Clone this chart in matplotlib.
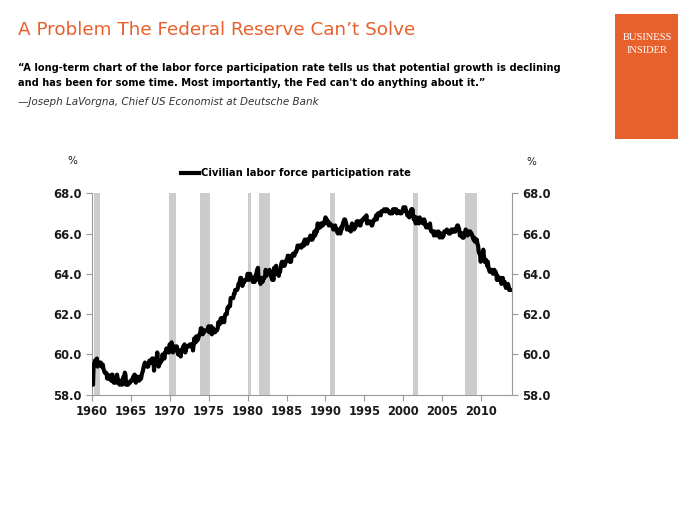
import numpy as np
import matplotlib
matplotlib.use("Agg")
import matplotlib.pyplot as plt
from matplotlib.patches import Rectangle

# ---- data (monthly civilian labor force participation rate, %) ----
start_year = 1960
lfpr_1960s = [
    59.1, 59.1, 58.5, 59.5, 59.5, 59.7, 59.5, 59.5, 59.8, 59.4, 59.6, 59.6,
    59.6, 59.6, 59.6, 59.4, 59.5, 59.5, 59.3, 59.2, 59.1, 59.1, 59.1, 59.0,
    58.8, 59.0, 58.9, 58.8, 58.9, 58.8, 58.7, 59.0, 59.0, 58.7, 58.6, 58.6,
    58.6, 58.6, 58.7, 59.0, 58.8, 58.6, 58.6, 58.5, 58.7, 58.7, 58.6, 58.5,
    58.6, 58.9, 58.7, 59.1, 59.0, 58.5, 58.6, 58.6, 58.5, 58.6, 58.6, 58.6,
    58.7, 58.7, 58.7, 58.8, 58.9, 58.9, 59.0, 58.7, 58.6, 58.9, 58.9, 58.8,
    58.8, 58.7, 58.8, 58.9, 58.8, 59.0, 59.1, 59.2, 59.4, 59.5, 59.6, 59.5,
    59.5, 59.4, 59.5, 59.4, 59.6, 59.7, 59.6, 59.7, 59.6, 59.8, 59.8, 59.8,
    59.2, 59.6, 59.6, 59.6, 59.8, 60.1, 59.7, 59.4, 59.5, 59.6, 59.6, 59.7,
    59.7, 60.0, 59.9, 59.9, 59.8, 60.1, 60.1, 60.3, 60.2, 60.2, 60.1, 60.1,
]
lfpr_1970s = [
    60.5, 60.4, 60.4, 60.6, 60.3, 60.1, 60.4, 60.3, 60.2, 60.4, 60.4, 60.4,
    60.2, 60.0, 60.0, 60.2, 60.2, 59.9, 60.2, 60.2, 60.3, 60.4, 60.4, 60.5,
    60.1, 60.2, 60.4, 60.4, 60.4, 60.4, 60.4, 60.5, 60.5, 60.4, 60.4, 60.5,
    60.2, 60.5, 60.8, 60.7, 60.6, 60.9, 60.8, 60.7, 60.8, 60.9, 61.0, 61.0,
    61.3, 61.3, 61.2, 61.0, 61.1, 61.1, 61.2, 61.2, 61.2, 61.2, 61.2, 61.2,
    61.4, 61.1, 61.2, 61.3, 61.4, 61.0, 61.2, 61.3, 61.2, 61.1, 61.1, 61.2,
    61.2, 61.2, 61.3, 61.6, 61.5, 61.5, 61.7, 61.8, 61.6, 61.6, 61.8, 61.8,
    61.6, 61.9, 62.0, 62.0, 62.0, 62.3, 62.3, 62.4, 62.4, 62.4, 62.8, 62.8,
    62.8, 62.8, 62.8, 63.0, 63.0, 63.2, 63.2, 63.2, 63.2, 63.3, 63.5, 63.5,
    63.6, 63.8, 63.8, 63.5, 63.4, 63.5, 63.6, 63.6, 63.7, 63.7, 63.7, 63.8,
]
lfpr_1980s = [
    64.0, 64.0, 63.7, 63.8, 64.0, 63.8, 63.8, 63.8, 63.6, 63.7, 63.8, 63.6,
    63.9, 63.9, 64.1, 64.2, 64.3, 63.7, 63.8, 63.8, 63.5, 63.8, 63.8, 63.6,
    63.7, 63.8, 63.8, 63.9, 64.2, 63.9, 64.0, 64.1, 64.1, 64.1, 64.2, 64.1,
    63.9, 63.8, 63.7, 63.8, 63.7, 64.3, 64.3, 64.3, 64.4, 64.0, 64.1, 64.1,
    63.9, 64.1, 64.1, 64.3, 64.5, 64.6, 64.6, 64.4, 64.4, 64.4, 64.5, 64.6,
    64.7, 64.7, 64.9, 64.9, 64.8, 64.6, 64.7, 64.6, 64.9, 64.9, 65.0, 64.9,
    64.9, 65.0, 65.1, 65.1, 65.2, 65.4, 65.4, 65.3, 65.4, 65.4, 65.4, 65.3,
    65.4, 65.5, 65.5, 65.4, 65.7, 65.5, 65.6, 65.7, 65.5, 65.7, 65.7, 65.7,
    65.8, 65.9, 65.7, 65.8, 65.7, 65.8, 65.9, 66.1, 65.9, 66.0, 66.2, 66.1,
    66.5, 66.3, 66.3, 66.4, 66.3, 66.5, 66.5, 66.5, 66.4, 66.5, 66.6, 66.5,
]
lfpr_1990s = [
    66.8, 66.7, 66.7, 66.6, 66.6, 66.4, 66.5, 66.5, 66.4, 66.4, 66.4, 66.4,
    66.2, 66.2, 66.3, 66.4, 66.2, 66.2, 66.1, 66.0, 66.2, 66.1, 66.1, 66.0,
    66.3, 66.2, 66.4, 66.5, 66.6, 66.7, 66.7, 66.6, 66.5, 66.2, 66.3, 66.3,
    66.2, 66.2, 66.2, 66.1, 66.4, 66.5, 66.4, 66.4, 66.2, 66.3, 66.3, 66.4,
    66.6, 66.6, 66.5, 66.6, 66.6, 66.4, 66.4, 66.6, 66.6, 66.7, 66.7, 66.7,
    66.8, 66.8, 66.7, 66.9, 66.5, 66.5, 66.6, 66.6, 66.6, 66.6, 66.5, 66.4,
    66.4, 66.6, 66.6, 66.7, 66.7, 66.7, 66.9, 66.7, 66.9, 67.0, 66.9, 67.0,
    67.0, 66.9, 67.1, 67.1, 67.1, 67.1, 67.2, 67.2, 67.1, 67.1, 67.2, 67.2,
    67.1, 67.1, 67.1, 67.0, 67.0, 67.0, 67.0, 67.0, 67.2, 67.2, 67.1, 67.2,
    67.2, 67.2, 67.0, 67.1, 67.1, 67.1, 67.1, 67.0, 67.0, 67.0, 67.1, 67.1,
]
lfpr_2000s = [
    67.3, 67.3, 67.3, 67.3, 67.1, 67.1, 66.9, 66.9, 66.9, 66.8, 66.9, 67.0,
    67.2, 67.1, 67.2, 66.9, 66.7, 66.7, 66.8, 66.5, 66.8, 66.7, 66.7, 66.7,
    66.5, 66.8, 66.6, 66.7, 66.7, 66.6, 66.5, 66.6, 66.7, 66.6, 66.4, 66.3,
    66.4, 66.4, 66.3, 66.4, 66.4, 66.5, 66.2, 66.1, 66.1, 66.1, 66.1, 65.9,
    66.1, 66.0, 66.0, 65.9, 66.0, 66.1, 66.1, 66.0, 65.8, 65.9, 66.0, 65.9,
    65.8, 65.9, 65.9, 66.1, 66.1, 66.1, 66.1, 66.2, 66.1, 66.1, 66.0, 66.0,
    66.0, 66.1, 66.2, 66.1, 66.1, 66.2, 66.1, 66.2, 66.1, 66.2, 66.3, 66.4,
    66.4, 66.3, 66.2, 65.9, 66.0, 66.0, 66.0, 65.8, 66.0, 65.8, 66.0, 66.0,
    66.2, 66.0, 66.1, 65.9, 66.1, 66.1, 66.1, 66.1, 66.0, 66.0, 65.9, 65.8,
    65.7, 65.8, 65.6, 65.7, 65.7, 65.7, 65.5, 65.4, 65.1, 65.0, 65.0, 64.6,
]
lfpr_2010s = [
    64.8, 64.9, 64.9, 65.2, 64.9, 64.6, 64.6, 64.7, 64.6, 64.4, 64.6, 64.3,
    64.2, 64.1, 64.2, 64.2, 64.2, 64.1, 64.0, 64.1, 64.2, 64.1, 64.1, 64.0,
    63.7, 63.9, 63.8, 63.7, 63.8, 63.8, 63.7, 63.5, 63.6, 63.8, 63.6, 63.6,
    63.6, 63.4, 63.3, 63.4, 63.4, 63.5, 63.4, 63.2, 63.2,
]

# recessions (start, end) in fractional years
rec_start = [1960.3, 1969.9, 1973.9, 1980.05, 1981.5, 1990.55, 2001.2, 2007.95]
rec_end = [1961.1, 1970.85, 1975.2, 1980.5, 1982.85, 1991.2, 2001.85, 2009.5]

x_ticks = [1960, 1965, 1970, 1975, 1980, 1985, 1990, 1995, 2000, 2005, 2010]
y_ticks = [58.0, 60.0, 62.0, 64.0, 66.0, 68.0]

series_label = "Civilian labor force participation rate"
title = "A Problem The Federal Reserve Can\u2019t Solve"
quote = ("\u201cA long-term chart of the labor force participation rate tells us that potential growth is declining\n"
         "and has been for some time. Most importantly, the Fed can't do anything about it.\u201d")
source = "\u2014Joseph LaVorgna, Chief US Economist at Deutsche Bank"

# ---- build ----
values = np.array(lfpr_1960s + lfpr_1970s + lfpr_1980s + lfpr_1990s + lfpr_2000s + lfpr_2010s)
dates = start_year + np.arange(len(values)) / 12.0

ORANGE = "#E8602B"
plt.rcParams['font.family'] = ['DejaVu Sans']

fig = plt.figure(figsize=(7, 5.25), dpi=100)
ax = fig.add_axes([0.131, 0.248, 0.600, 0.384])

for s, e in zip(rec_start, rec_end):
    ax.axvspan(s, e, color="#cccccc", lw=0, zorder=0)

ax.plot(dates, values, color="black", lw=3.0, solid_joinstyle="round", label=series_label, zorder=3)

ax.set_xlim(1960, 2013.9)
ax.set_ylim(58, 68)
ax.set_xticks(x_ticks)
ax.set_yticks(y_ticks)
ax.set_yticklabels([f"{v:.1f}" for v in y_ticks])
for sp in ["top", "right"]:
    ax.spines[sp].set_visible(False)
for sp in ["left", "bottom"]:
    ax.spines[sp].set_color("#999999")
    ax.spines[sp].set_linewidth(0.8)
ax.tick_params(axis="both", colors="#999999", length=4, width=0.8, direction="out",
               labelcolor="#1a1a1a", labelsize=8.3)
for lab in ax.get_xticklabels() + ax.get_yticklabels():
    lab.set_fontweight("bold")

ax2 = ax.twinx()
ax2.set_ylim(58, 68)
ax2.set_yticks(y_ticks)
ax2.set_yticklabels([f"{v:.1f}" for v in y_ticks])
for sp in ["top", "left", "bottom"]:
    ax2.spines[sp].set_visible(False)
ax2.spines["right"].set_color("#999999")
ax2.spines["right"].set_linewidth(0.8)
ax2.tick_params(axis="y", colors="#999999", length=4, width=0.8, direction="out",
                labelcolor="#1a1a1a", labelsize=8.3)
for lab in ax2.get_yticklabels():
    lab.set_fontweight("bold")

fig.text(67 / 700, 1 - 161 / 525, "%", fontsize=7.5, ha="left", va="center", color="#1a1a1a")
fig.text(526 / 700, 1 - 162 / 525, "%", fontsize=7.5, ha="left", va="center", color="#1a1a1a")

leg = ax.legend(loc="center", bbox_to_anchor=(296 / 700, 1 - 173 / 525),
                bbox_transform=fig.transFigure, frameon=False, handlelength=1.8,
                handletextpad=0.15, prop={"weight": "bold", "size": 7.2})

# header texts
fig.text(18 / 700, 1 - 30 / 525, title, fontsize=13.2, color=ORANGE, ha="left", va="center",
         fontweight="normal")
fig.text(18 / 700, 1 - 75.5 / 525, quote, fontsize=7.1, color="black", ha="left", va="center",
         fontweight="bold", linespacing=1.55)
fig.text(18 / 700, 1 - 102 / 525, source, fontsize=7.5, color="#333333", ha="left", va="center",
         style="italic")

# logo box
fig.patches.append(Rectangle((615 / 700, 1 - 139 / 525), 63 / 700, 125 / 525,
                             transform=fig.transFigure, facecolor=ORANGE, edgecolor="none"))
fig.text(647 / 700, 1 - 37 / 525, "BUSINESS", fontsize=7.6, color="white", ha="center",
         va="center", family="Liberation Serif")
fig.text(647 / 700, 1 - 50.5 / 525, "INSIDER", fontsize=7.6, color="white", ha="center",
         va="center", family="Liberation Serif")

fig.savefig("out.png", dpi=100, facecolor="white")
